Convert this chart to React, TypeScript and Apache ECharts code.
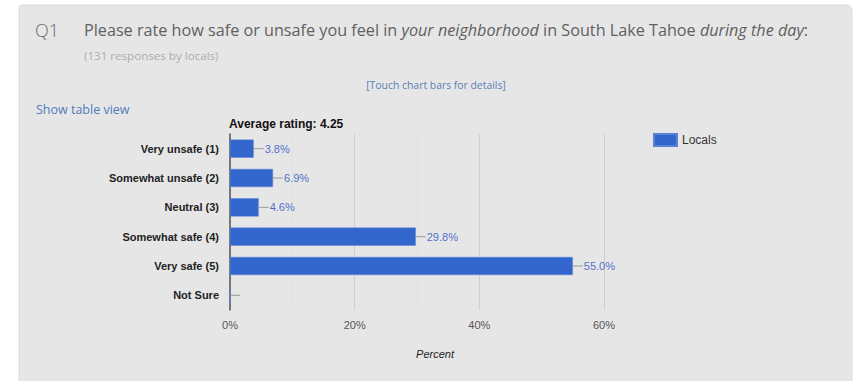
import React, { useEffect, useRef } from "react";
import * as echarts from "echarts";

const categories = [
  "Very unsafe (1)",
  "Somewhat unsafe (2)",
  "Neutral (3)",
  "Somewhat safe (4)",
  "Very safe (5)",
  "Not Sure",
];
const localsPct = [3.8, 6.9, 4.6, 29.8, 55.0, 0];
const xTicks = [0, 20, 40, 60];
const seriesName = "Locals";
const chartTitle = "Average rating: 4.25";

export default function App() {
  const ref = useRef<HTMLDivElement>(null);
  useEffect(() => {
    if (!ref.current) return;
    const chart = echarts.init(ref.current, null, { renderer: "svg" });
    const hdrFont = "'Open Sans', sans-serif";
    chart.setOption({
      animation: false,
      backgroundColor: "#ffffff",
      textStyle: { fontFamily: "'Liberation Sans', Arial, sans-serif" },
      graphic: [
        {
          type: "rect",
          z: -10,
          shape: { x: 19, y: 5, width: 833, height: 400, r: [4, 6, 0, 0] },
          style: { fill: "#e7e6e7", stroke: "#dcdbdc", lineWidth: 1 },
        },
        {
          type: "text",
          x: 35,
          y: 30,
          style: {
            text: "Q1",
            font: `300 18px ${hdrFont}`,
            fill: "#6a6a6a",
            verticalAlign: "middle",
          },
        },
        {
          type: "text",
          x: 84,
          y: 30,
          style: {
            text:
              "{n|Please rate how safe or unsafe you feel in }{i|your neighborhood}{n| in South Lake Tahoe }{i|during the day}{n|:}",
            verticalAlign: "middle",
            rich: {
              n: { font: `400 16.2px ${hdrFont}`, fill: "#606060" },
              i: { font: `italic 400 16.2px ${hdrFont}`, fill: "#606060" },
            },
          },
        },
        {
          type: "text",
          x: 84,
          y: 55,
          style: {
            text: "(131 responses by locals)",
            font: `400 11.6px ${hdrFont}`,
            fill: "#acacac",
            verticalAlign: "middle",
          },
        },
        {
          type: "text",
          x: 436,
          y: 85,
          style: {
            text: "[Touch chart bars for details]",
            font: `400 10.4px ${hdrFont}`,
            fill: "#5b7fb6",
            align: "center",
            verticalAlign: "middle",
          },
        },
        {
          type: "text",
          x: 36,
          y: 109,
          style: {
            text: "Show table view",
            font: `400 12.5px ${hdrFont}`,
            fill: "#4d7db8",
            verticalAlign: "middle",
          },
        },
      ],
      title: {
        text: chartTitle,
        left: 229,
        top: 118,
        padding: 0,
        textStyle: { fontSize: 12, fontWeight: "bold", color: "#111" },
      },
      legend: {
        left: 653,
        top: 133,
        padding: 0,
        itemWidth: 23,
        itemHeight: 12,
        itemGap: 5,
        icon: "rect",
        textStyle: { fontSize: 12, color: "#333" },
        data: [seriesName],
      },
      grid: { left: 230, top: 134, right: 255, bottom: 71, containLabel: false },
      xAxis: {
        type: "value",
        min: 0,
        max: 60,
        interval: 10,
        name: "Percent",
        nameLocation: "middle",
        nameGap: 38,
        nameTextStyle: {
          fontStyle: "italic",
          fontSize: 11,
          color: "#222",
          padding: [0, 0, 0, 36],
        },
        axisLine: { show: false },
        axisTick: { show: false },
        axisLabel: {
          margin: 9,
          fontSize: 11,
          color: "#555",
          formatter: (v: number) => (xTicks.includes(v) ? `${v}%` : ""),
        },
        splitLine: {
          show: true,
          lineStyle: { color: ["#cfcfcf", "#e2e1e2"], width: 1 },
        },
      },
      yAxis: {
        type: "category",
        inverse: true,
        data: categories,
        axisLine: { show: true, lineStyle: { color: "#555", width: 1.5 } },
        axisTick: { show: false },
        axisLabel: {
          margin: 11,
          fontSize: 11,
          fontWeight: "bold",
          color: "#222",
        },
      },
      series: [
        {
          name: seriesName,
          type: "bar",
          data: localsPct,
          barCategoryGap: "38%",
          itemStyle: { color: "#3366cc", borderColor: "#5a83d6", borderWidth: 0.5 },
          label: {
            show: true,
            position: "right",
            distance: 0,
            formatter: (p: any) =>
              p.value > 0 ? `{l| }{v|${p.value.toFixed(1)}%}` : "{l| }",
            rich: {
              l: { width: 10, height: 1, backgroundColor: "#9a9a9a", fontSize: 1 },
              v: { fontSize: 11, color: "#4f73c9", padding: [0, 0, 0, 1] },
            },
          },
        },
      ],
    });
    return () => chart.dispose();
  }, []);
  return (
    <div
      ref={ref}
      style={{ position: "fixed", left: 0, top: 0, width: 859, height: 381 }}
    />
  );
}
